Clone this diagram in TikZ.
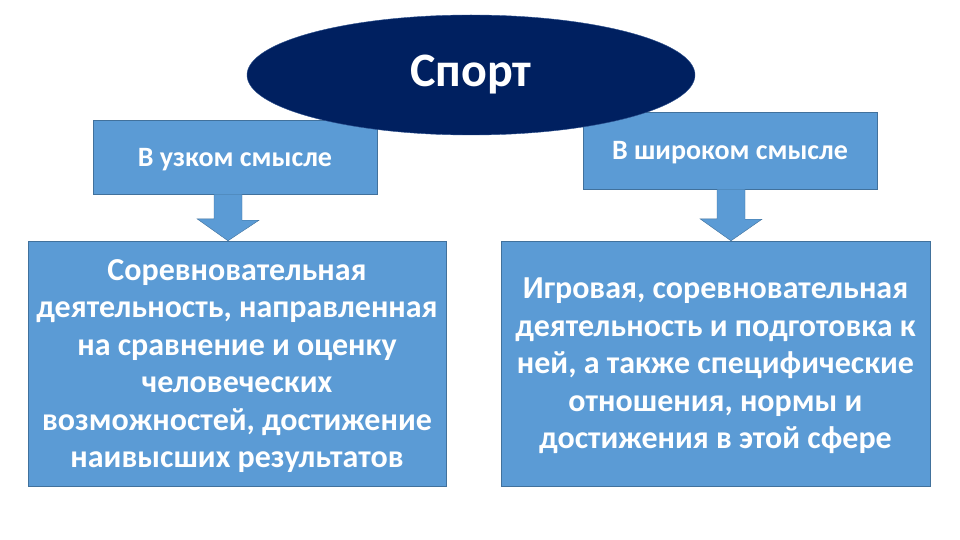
\documentclass[tikz,border=0pt]{standalone}
\usepackage{fontspec}
\setmainfont{Carlito}
\usetikzlibrary{shapes.geometric}

\definecolor{boxblue}{HTML}{5B9BD5}
\definecolor{boxline}{HTML}{41719C}
\definecolor{navy}{HTML}{002060}
\definecolor{navyline}{HTML}{2F528F}

\begin{document}
\begin{tikzpicture}[
    x=1pt, y=-1pt,
    box/.style={draw=boxline, fill=boxblue, rectangle, inner sep=0pt, align=center, text depth=0pt,
        text=white, font=\bfseries\fontsize{28}{33}\selectfont},
    bigbox/.style={box, font=\bfseries\fontsize{32}{37.5}\selectfont},
    blockarrow/.style={draw=boxline, fill=boxblue}
]
\useasboundingbox (0,0) rectangle (960,540);

\node (narrow) [box, minimum width=284pt, minimum height=74pt] at (235,157) {В узком смысле};
\node (broad) [box, minimum width=294pt, minimum height=77pt] at (730,150.5) {В широком смысле};

\node (narrowdef) [bigbox, minimum width=418pt, minimum height=245pt] at (237,363.5)
{Соревновательная \\ деятельность, направленная \\ на сравнение и оценку \\ человеческих \\ возможностей, достижение \\ наивысших результатов};
\node (broaddef) [bigbox, minimum width=429pt, minimum height=245pt] at (715.5,363.5)
{Игровая, соревновательная \\ деятельность и подготовка к \\ ней, а также специфические \\ отношения, нормы и \\ достижения в этой сфере};

\node (sport) [ellipse, draw=navyline, fill=navy, text=white, minimum width=448pt, minimum height=120pt,
    font=\bfseries\fontsize{48}{56}\selectfont] at (471,75) {Спорт};

% block arrows
\coordinate (axisL) at (228,0);
\coordinate (axisR) at (731,0);
\filldraw[blockarrow] (axisL |- narrow.south) ++(-14,0) -- ++(28,0) -- ++(0,26) -- ++(17,0)
    -- (axisL |- narrowdef.north) -- ++(-31,-22) -- ++(17,0) -- cycle;
\filldraw[blockarrow] (axisR |- broad.south) ++(-14,0) -- ++(28,0) -- ++(0,30) -- ++(17,0)
    -- (axisR |- broaddef.north) -- ++(-31,-22) -- ++(17,0) -- cycle;

\end{tikzpicture}
\end{document}
